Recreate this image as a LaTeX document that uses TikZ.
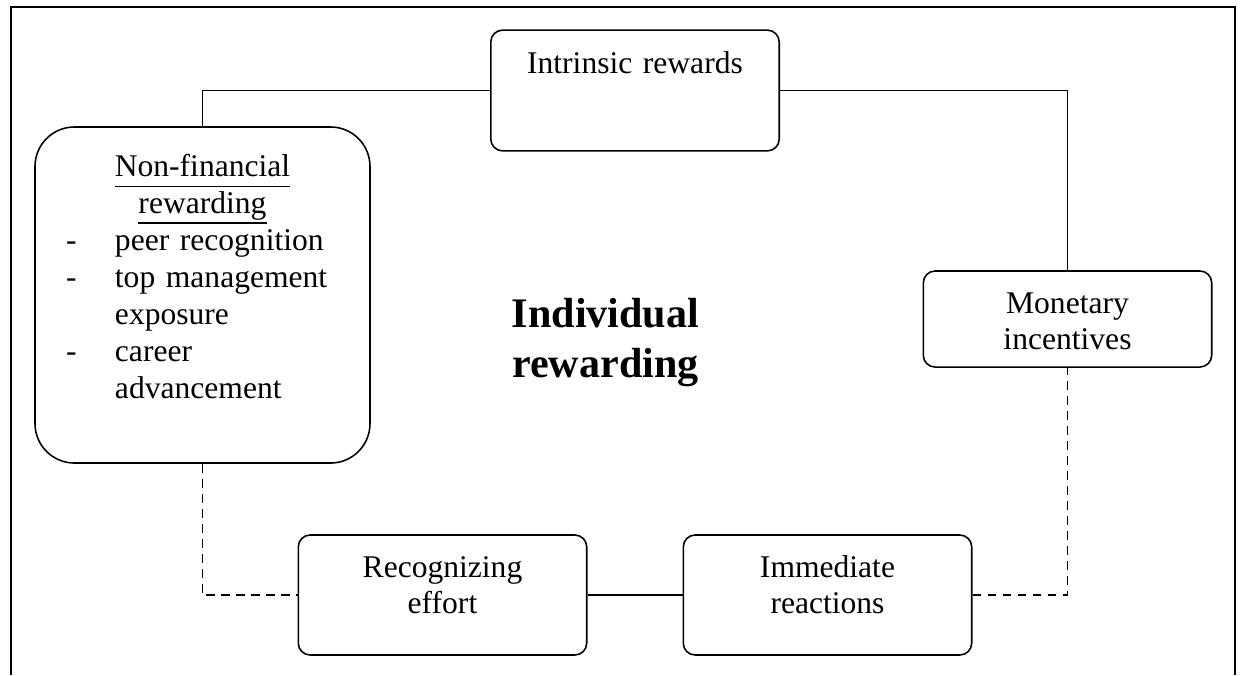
\documentclass[tikz,border=0pt]{standalone}
\usepackage{fontspec}
\setmainfont{Liberation Serif}
\usetikzlibrary{backgrounds}

% underline set at a fixed distance below the baseline
\newcommand\undl[1]{\leavevmode\setbox0=\hbox{#1}\rlap{\rule[-3.7pt]{\wd0}{0.45pt}}\box0}
% one item of the dashed list
\newcommand\listitem[1]{\hspace*{11.8pt}\makebox[18.6pt][l]{-}#1}

\begin{document}
\begin{tikzpicture}[x=0.38pt, y=-0.38pt,
  every node/.style={font=\fontsize{12pt}{13.7pt}\selectfont},
  link/.style={line width=0.6pt},
  dashedlink/.style={line width=0.6pt, dash pattern=on 3.4pt off 2.3pt},
  rbox/.style={draw, fill=white, line width=0.6pt, rounded corners=4.5pt,
    inner xsep=0pt, inner ysep=0pt, align=center, text width=109.6pt},
  bigbox/.style={draw, fill=white, line width=0.6pt, rounded corners=15pt,
    inner xsep=0pt, inner ysep=0pt, text width=127.3pt,
    text height=19pt, text depth=108.7pt,
    font=\fontsize{12pt}{14pt}\selectfont}
]
\useasboundingbox (0,0) rectangle (1240,675);

% outer frame, open at the bottom
\draw[line width=0.6pt] (11,675) -- (11,7) -- (1235,7) -- (1235,675);

% boxes
\node[rbox, text height=16.3pt, text depth=29.6pt] (intr) at (635,90.5) {Intrinsic rewards};
\node[rbox, text height=16pt, text depth=20.5pt] (mon) at (1067.5,319) {Monetary\\incentives};
\node[rbox, text height=16pt, text depth=29.6pt] (rec) at (442.5,595) {Recognizing\\effort};
\node[rbox, text height=16pt, text depth=29.6pt] (imm) at (827.5,595) {Immediate\\reactions};

\node[bigbox] (nf) at (202.5,295) {%
  {\centering\undl{Non-financial}\par\undl{rewarding}\par}
  \raggedright
  \listitem{peer recognition}\\
  \listitem{top management}\\
  \hspace*{30.4pt}exposure\\
  \listitem{career}\\
  \hspace*{30.4pt}advancement\par};

% central title
\node[anchor=base, text width=120pt, align=center, inner sep=0pt,
  font=\fontsize{16pt}{19pt}\selectfont\bfseries] (title) at (605.5,327)
  {Individual\\rewarding};

% connectors
\begin{pgfonlayer}{background}
\draw[link] (nf.north) |- (intr.west);
\draw[link] (intr.east) -| (mon.north);
\draw[dashedlink] (nf.south) |- (rec.west);
\draw[link] (rec.east) -- (imm.west);
\draw[dashedlink] (imm.east) -| (mon.south);
\end{pgfonlayer}
\end{tikzpicture}
\end{document}
